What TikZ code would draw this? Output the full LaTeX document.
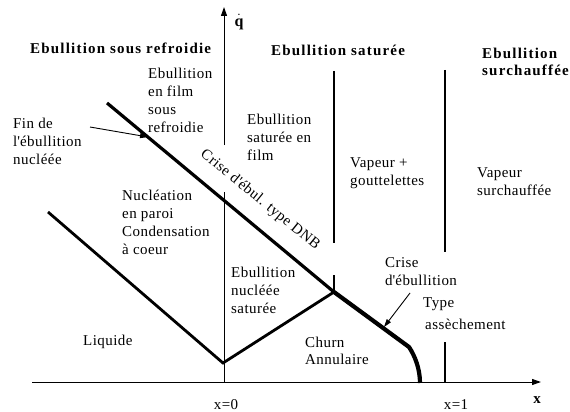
\documentclass[tikz,border=0pt]{standalone}
\usepackage{fontspec}
\setmainfont{Liberation Serif}[LetterSpace=3]
\usetikzlibrary{arrows.meta}
\begin{document}
\begin{tikzpicture}[x=1pt,y=-1pt,
 txt/.style={anchor=north west, align=left, inner sep=0pt, font=\fontsize{15}{18}\selectfont},
 bld/.style={anchor=north west, align=left, inner sep=0pt, font=\fontsize{15}{17}\selectfont\bfseries\addfontfeature{LetterSpace=8}},
 lab/.style={anchor=base, inner sep=0pt, font=\fontsize{15}{18}\selectfont},
 axisline/.style={line width=1pt, -{Triangle[length=9pt,width=6pt]}},
 thinline/.style={line width=1pt},
 region/.style={line width=2.3pt},
 crit/.style={line width=3.2pt},
 crittwo/.style={line width=4.2pt, line join=round},
 boundary/.style={line width=2.8pt, line join=miter},
 note/.style={line width=0.9pt, -{Triangle[length=8pt,width=5pt]}}
]
\useasboundingbox (0,0) rectangle (570,412);
% coordinates
\coordinate (O) at (32,382);
\coordinate (xend) at (541,382);
\coordinate (x0) at (224,382);
\coordinate (ygapA) at (224,192);
\coordinate (ygapB) at (224,145);
\coordinate (yend) at (224,7);
\coordinate (A) at (107,103);
\coordinate (J) at (334,292);
\coordinate (K) at (409,347);
\coordinate (E) at (420,383);
\coordinate (L) at (48,212);
\coordinate (V) at (223,363);
\coordinate (sA) at (334,71);
\coordinate (sB) at (334,243);
\coordinate (sC) at (334,275);
\coordinate (tA) at (445,70);
\coordinate (tB) at (445,252);
\coordinate (tC) at (445,342);
\coordinate (tD) at (445,382);
\coordinate (fA) at (90,127);
\coordinate (fB) at (148,137);
\coordinate (cA) at (410,293);
\coordinate (cB) at (384,327);
% axes
\draw[axisline] (O) -- (xend);
\draw[thinline] (x0) -- (ygapA);
\draw[axisline] (ygapB) -- (yend);
% region lines
\draw[region] (sA) -- (sB);
\draw[region] (sC) -- (J);
\draw[region] (tA) -- (tB);
\draw[region] (tC) -- (tD);
% critical lines
\draw[crit] (A) -- (J);
\draw[crittwo] (J) -- (K) .. controls (415,356) and (420,369) .. (E);
\draw[boundary] (L) -- (V) -- (J);
% pointer arrows
\draw[note] (fA) -- (fB);
\draw[note] (cA) -- (cB);
% titles
\node[bld] (tsr) at (30,43) {Ebullition sous refroidie};
\node[bld] (tsat) at (271,44.5) {Ebullition saturée};
\node[bld] (tsur) at (482,47.5) {Ebullition\\surchauffée};
\node[anchor=center, inner sep=0pt, font=\fontsize{16}{18}\selectfont] (qd) at (239,22) {$\dot{\mathbf{q}}$};
% region labels
\node[txt] (enfilm) at (148,67.5) {Ebullition\\en film\\sous\\refroidie};
\node[txt] (fin) at (13,117.5) {Fin de\\l\textquotesingle ébullition\\nucléée};
\node[txt] (satfilm) at (247,113.5) {Ebullition\\saturée en\\film};
\node[txt] (vapg) at (350,157.5) {Vapeur +\\gouttelettes};
\node[txt] (vaps) at (477,167.5) {Vapeur\\surchauffée};
\node[txt] (nucl) at (122,189.5) {Nucléation\\en paroi\\Condensation\\à coeur};
\node[txt] (ebns) at (231,266.5) {Ebullition\\nucléée\\saturée};
\node[txt] (liq) at (83,334.5) {Liquide};
\node[txt, font=\fontsize{15}{17}\selectfont] (churn) at (305,336.5) {Churn\\Annulaire};
\node[txt] (crise) at (385,257.5) {Crise\\d\textquotesingle ébullition};
\node[txt] (typ) at (423,297.5) {Type\\[4pt]\hspace{2pt}assèchement};
\node[anchor=center, inner sep=0pt, rotate=-39, font=\fontsize{15}{18}\selectfont] (dnb) at (260,200) {Crise d\textquotesingle ébul. type DNB};
% axis labels
\node[lab] (lx0) at (226,409) {x=0};
\node[lab] (lx1) at (456,409) {x=1};
\node[lab, font=\fontsize{15}{18}\selectfont\bfseries] (lx) at (537,403) {x};
\end{tikzpicture}
\end{document}
